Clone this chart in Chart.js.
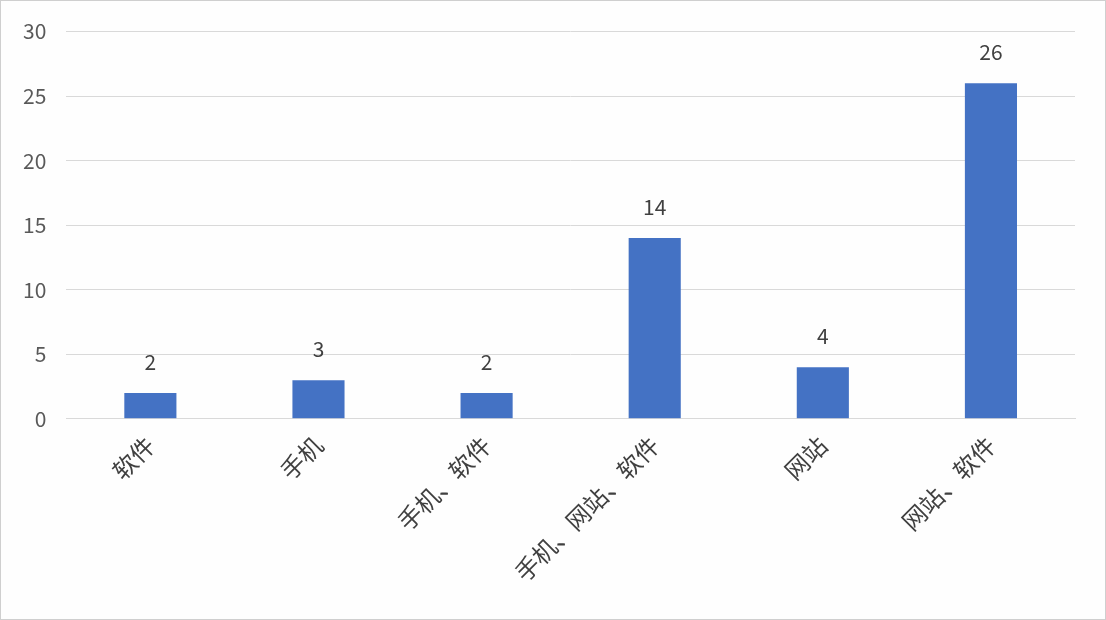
<!DOCTYPE html>
<html>
<head>
<meta charset="utf-8">
<script src="https://cdn.jsdelivr.net/npm/chart.js@4"></script>
<style>
html,body{margin:0;padding:0;background:#fff;}
#wrap{width:1106px;height:620px;box-sizing:border-box;border:1px solid #cfcfcf;background:#fefefe;}
canvas{display:block;}
</style>
</head>
<body>
<div id="wrap"><canvas id="c" width="1104" height="618"></canvas></div>
<script>
const categories = ['软件', '手机', '手机、软件', '手机、网站、软件', '网站', '网站、软件'];
const counts = [2, 3, 2, 14, 4, 26];
const yTicks = [0, 5, 10, 15, 20, 25, 30];

const FONT = '"Noto Sans CJK SC", "Noto Sans", sans-serif';

const valueLabels = {
  id: 'valueLabels',
  afterDatasetsDraw(chart) {
    const ctx = chart.ctx;
    const meta = chart.getDatasetMeta(0);
    ctx.save();
    ctx.font = '21px ' + FONT;
    ctx.fillStyle = '#404040';
    ctx.textAlign = 'center';
    ctx.textBaseline = 'middle';
    meta.data.forEach((bar, i) => {
      ctx.fillText(String(counts[i]), bar.x, bar.y - 31);
    });
    ctx.restore();
  }
};

new Chart(document.getElementById('c'), {
  type: 'bar',
  data: {
    labels: categories,
    datasets: [{
      data: counts,
      backgroundColor: '#4472c4',
      borderWidth: 0,
      categoryPercentage: 1.0,
      barPercentage: 0.31
    }]
  },
  options: {
    responsive: false,
    animation: false,
    devicePixelRatio: 1,
    layout: { padding: { top: 25, right: 30, left: 2, bottom: 20 } },
    plugins: { legend: { display: false }, tooltip: { enabled: false } },
    scales: {
      x: {
        grid: { display: false, drawTicks: false },
        border: { display: true, color: '#d9d9d9', width: 1 },
        ticks: {
          maxRotation: 45, minRotation: 45,
          autoSkip: false,
          color: '#404040',
          font: { size: 24, family: FONT },
          padding: 12
        }
      },
      y: {
        min: 0, max: 30,
        afterBuildTicks(axis) { axis.ticks = yTicks.map(v => ({ value: v })); },
        grid: { color: '#d9d9d9', drawTicks: false, lineWidth: 1 },
        border: { display: false },
        ticks: {
          color: '#595959',
          font: { size: 21, family: FONT, lineHeight: 1 },
          padding: 20
        }
      }
    }
  },
  plugins: [valueLabels]
});
</script>
</body>
</html>
